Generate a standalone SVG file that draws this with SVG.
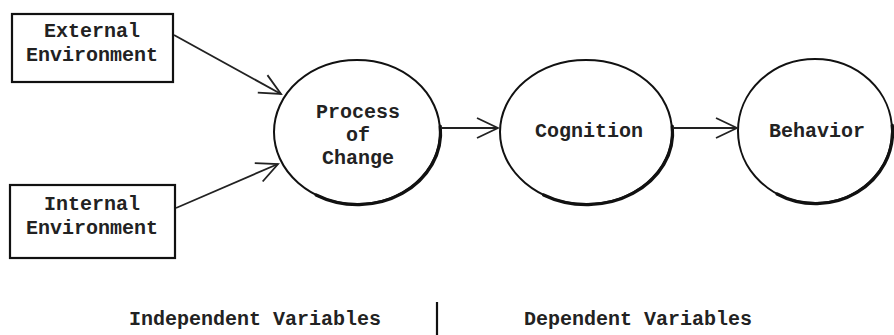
<svg xmlns="http://www.w3.org/2000/svg" width="894" height="335" viewBox="0 0 894 335">
<defs>
<style>
.box{fill:#fff;stroke:#111;stroke-width:2.2}
.node{fill:#fff;stroke:#111;stroke-width:2}
.shade{fill:none;stroke:#111;stroke-width:3.2;stroke-linecap:round}
.lbl{font-family:"Liberation Mono","Courier New",monospace;font-size:20px;font-weight:bold;fill:#222;text-anchor:middle}
.edge{fill:none;stroke:#222;stroke-width:1.8}
</style>
<marker id="arr" viewBox="-24 -12 26 24" refX="0" refY="0" markerWidth="26" markerHeight="24" markerUnits="userSpaceOnUse" orient="auto">
<path d="M-21,-10 L0,0 L-21,10" fill="none" stroke="#222" stroke-width="1.8"/>
</marker>
</defs>
<rect width="894" height="335" fill="#fff"/>
<g id="external">
<rect class="box" x="12" y="14" width="161" height="68"/>
<text class="lbl" x="92" y="37">External</text>
<text class="lbl" x="92" y="61">Environment</text>
</g>
<g id="internal">
<rect class="box" x="10" y="185" width="165" height="73"/>
<text class="lbl" x="92" y="210">Internal</text>
<text class="lbl" x="92" y="234">Environment</text>
</g>
<g id="process">
<ellipse class="node" cx="357" cy="132" rx="83" ry="72"/>
<path class="shade" transform="translate(0.6,0.6)" d="M439.7,125.7 A83,72 0 0 1 315.5,194.4"/>
<text class="lbl" x="358" y="118">Process</text>
<text class="lbl" x="358" y="141">of</text>
<text class="lbl" x="358" y="164">Change</text>
</g>
<g id="cognition">
<ellipse class="node" cx="586" cy="132" rx="86" ry="72"/>
<path class="shade" transform="translate(0.6,0.6)" d="M671.7,125.7 A86,72 0 0 1 543,194.4"/>
<text class="lbl" x="589" y="137">Cognition</text>
</g>
<g id="behavior">
<ellipse class="node" cx="815" cy="131" rx="77" ry="72"/>
<path class="shade" transform="translate(0.6,0.6)" d="M891.7,124.7 A77,72 0 0 1 776.5,193.4"/>
<text class="lbl" x="817" y="137">Behavior</text>
</g>
<g id="connectors">
<line class="edge" x1="174" y1="35" x2="281" y2="94" marker-end="url(#arr)"/>
<line class="edge" x1="176" y1="208" x2="278" y2="164" marker-end="url(#arr)"/>
<line class="edge" x1="441" y1="128" x2="498" y2="128" marker-end="url(#arr)"/>
<line class="edge" x1="673" y1="128" x2="737" y2="128" marker-end="url(#arr)"/>
</g>
<g id="legend">
<text class="lbl" x="255" y="325">Independent Variables</text>
<line x1="437" y1="302" x2="437" y2="335" stroke="#111" stroke-width="2.2"/>
<text class="lbl" x="638" y="325">Dependent Variables</text>
</g>
</svg>
